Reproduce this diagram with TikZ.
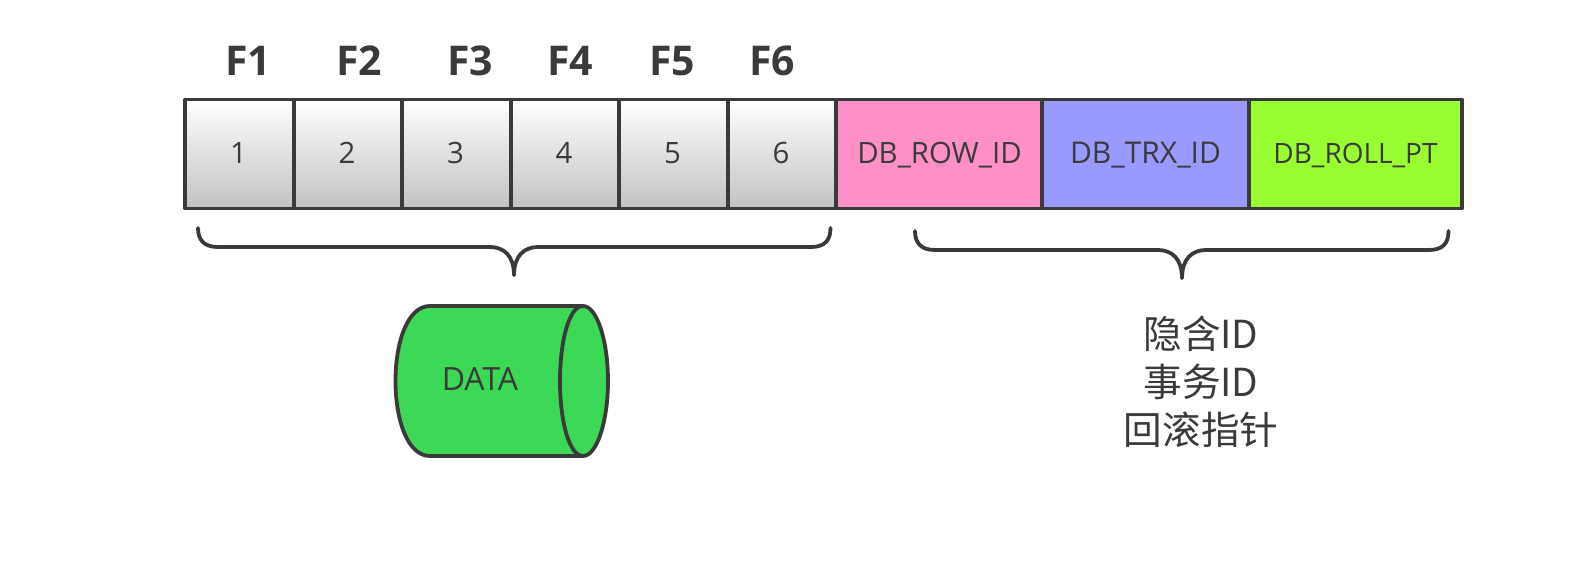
\documentclass[tikz,border=0pt]{standalone}
\usepackage{fontspec}
\setmainfont{Open Sans}
\newfontfamily\cjk{Noto Sans CJK SC}
\definecolor{inkgray}{HTML}{3A3A3A}
\definecolor{rowpink}{HTML}{FF8FC7}
\definecolor{trxblue}{HTML}{9999FF}
\definecolor{rollgreen}{HTML}{99FF33}
\definecolor{datagreen}{HTML}{3BD955}
\begin{document}
\begin{tikzpicture}[x=0.5pt,y=-0.5pt,line join=round,
    fd/.style={text=inkgray,font=\bfseries\fontsize{20.5}{20.5}\selectfont},
    cell/.style={draw=inkgray,line width=1.9pt,minimum height=54.5pt,inner sep=0pt,outer sep=0pt,text=inkgray,text height=12.5pt,text depth=3pt,font=\fontsize{14.7}{15}\selectfont},
    gray cell/.style={cell,minimum width=54.25pt,top color=white,bottom color=black!24},
    brace/.style={draw=inkgray,line width=1.9pt,line cap=round},
    lbl/.style={text=inkgray,font=\fontsize{16}{16}\selectfont}]
    \useasboundingbox (0,0) rectangle (1570,562);
    % field names and visible columns
    \foreach \i/\fx/\cx in {1/248/239.5,2/359/348,3/470/456.5,4/570/565,5/672/673.5,6/772/782}{
        \node[fd] (f\i) at (\fx,61) {F\i};
        \node[gray cell] (c\i) at (\cx,154) {\i\kern1pt};
    }
    % hidden columns
    \node[cell,fill=rowpink,minimum width=103pt] (rowid) at (939.5,154) {DB\_ROW\_ID};
    \node[cell,fill=trxblue,minimum width=103.25pt,font=\fontsize{15}{15}\selectfont] (trxid) at (1145.5,154) {DB\_TRX\_ID};
    \node[cell,fill=rollgreen,minimum width=106.25pt,font=\fontsize{14}{15}\selectfont] (rollpt) at (1355.5,154) {DB\_ROLL\_PT};
    % braces
    \coordinate (la) at (198,228);
    \coordinate (lm) at (514,275);
    \coordinate (lb) at (830.5,228);
    \coordinate (ra) at (915,231);
    \coordinate (rm) at (1182,278);
    \coordinate (rb) at (1448.5,231);
    \draw[brace] (la) .. controls (198,240) and (204,247) .. (218,247) -- (490,247)
        .. controls (504,247) and (514,256) .. (lm);
    \draw[brace] (lm) .. controls (514,256) and (524,247) .. (538,247) -- (811,247)
        .. controls (825,247) and (830.5,240) .. (lb);
    \draw[brace] (ra) .. controls (915,243) and (921,250) .. (935,250) -- (1158,250)
        .. controls (1172,250) and (1182,259) .. (rm);
    \draw[brace] (rm) .. controls (1182,259) and (1192,250) .. (1206,250) -- (1429,250)
        .. controls (1443,250) and (1448.5,243) .. (rb);
    % cylinder
    \draw[draw=inkgray,fill=datagreen,line width=1.9pt] (583,306) -- (430,306)
        .. controls (408,306) and (395.5,341) .. (395.5,381)
        .. controls (395.5,421) and (408,456) .. (430,456) -- (583,456)
        .. controls (597,456) and (608,421) .. (608,381)
        .. controls (608,341) and (597,306) .. (583,306) -- cycle;
    \draw[draw=inkgray,line width=1.9pt] (583,306)
        .. controls (569,306) and (560,341) .. (560,381)
        .. controls (560,421) and (569,456) .. (583,456);
    \node[lbl] (data) at (480,379) {DATA};
    % explanation
    \node[text=inkgray,align=center,font=\cjk\fontsize{19.3}{24}\selectfont] (note) at (1201,382) {隐含ID\\事务ID\\回滚指针};
\end{tikzpicture}
\end{document}
